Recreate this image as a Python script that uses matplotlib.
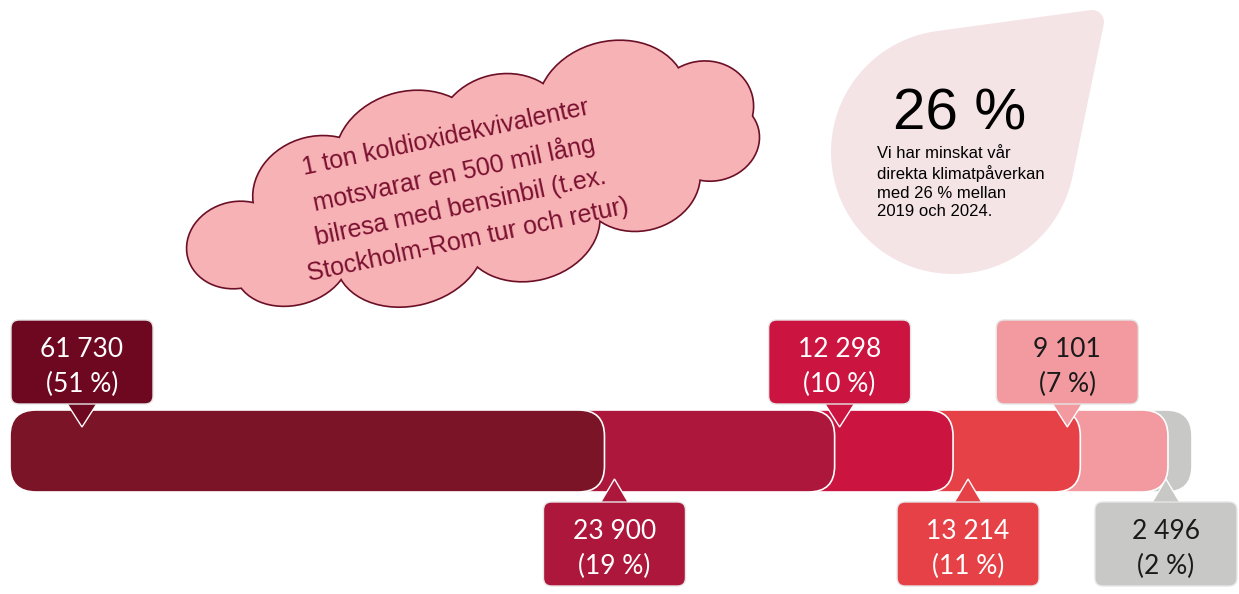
import numpy as np
import matplotlib.pyplot as plt
from matplotlib.patches import FancyBboxPatch, Polygon, Ellipse

W, H = 1239, 594

# data
values = [61730, 23900, 12298, 13214, 9101, 2496]
shares = [51, 19, 10, 11, 7, 2]
seg_colors = ['#7b1426', '#ad173b', '#cc1440', '#e54147', '#f29aa0', '#c8c8c6']
box_colors = ['#6d0820', '#ad173b', '#cc1440', '#e54147', '#f29aa0', '#c8c8c6']
text_colors = ['white', 'white', 'white', 'white', '#1a1a1a', '#1a1a1a']
above = [True, False, True, False, True, False]

cloud_text = ("1 ton koldioxidekvivalenter\nmotsvarar en 500 mil lång\n"
              "bilresa med bensinbil (t.ex.\nStockholm-Rom tur och retur)")
big_number = "26 %"
drop_text = "Vi har minskat vår\ndirekta klimatpåverkan\nmed 26 % mellan\n2019 och 2024."

# layout (pixels)
bar_left, bar_w = 10, 1182
bar_top, bar_h = 410, 82
radius = 26
tip_offset_px = [72, 10, 5, 15, -13, -2]

total = sum(values)
cum = np.concatenate([[0], np.cumsum(values)])
ux = total / bar_w  # data units per pixel

fig = plt.figure(figsize=(W / 100, H / 100), dpi=100)
ax_bar = fig.add_axes([bar_left / W, 0, bar_w / W, 1])
ax_bar.set_xlim(0, total)
ax_bar.set_ylim(H, 0)
ax_bar.axis('off')

ax = fig.add_axes([0, 0, 1, 1])
ax.set_xlim(0, W)
ax.set_ylim(H, 0)
ax.axis('off')

# stacked bar, earlier segments on top
for i, v in enumerate(values):
    start = cum[i] - (2 * radius * ux if i > 0 else 0)
    seg = FancyBboxPatch((start, bar_top), cum[i + 1] - start, bar_h,
                         boxstyle=f"round,pad=0,rounding_size={radius * ux}",
                         mutation_aspect=1 / ux, facecolor=seg_colors[i],
                         edgecolor='white', linewidth=1.2, zorder=10 - i)
    ax_bar.add_patch(seg)

# callouts
for i, v in enumerate(values):
    cx = cum[i] + tip_offset_px[i] * ux
    if above[i]:
        y0, tip, base = 320, 427, 402
    else:
        y0, tip, base = 502, 479, 506
    tri = Polygon([(cx - 16 * ux, base), (cx, tip), (cx + 16 * ux, base)], closed=True,
                  facecolor=box_colors[i], edgecolor='white', linewidth=1.0,
                  zorder=20, clip_on=False)
    ax_bar.add_patch(tri)
    box = FancyBboxPatch((cx - 71 * ux, y0), 142 * ux, 84,
                         boxstyle=f"round,pad=0,rounding_size={8 * ux}",
                         mutation_aspect=1 / ux, facecolor=box_colors[i],
                         edgecolor='#e6e6e6', linewidth=1.0, zorder=21, clip_on=False)
    ax_bar.add_patch(box)
    label = f"{v:,}".replace(",", " ") + f"\n({shares[i]} %)"
    ax_bar.text(cx, y0 + 47, label, ha='center', va='center', color=text_colors[i],
                fontsize=19, family='Lato', linespacing=1.45,
                zorder=22, clip_on=False)

# cloud: lobes as tilted ellipses (cx, cy, w, h)
lobes = [(237, 245, 100, 85), (292, 262, 115, 85), (318, 192, 130, 110),
         (410, 152, 150, 120), (502, 130, 130, 110), (612, 102, 150, 120),
         (703, 108, 100, 92), (713, 140, 92, 80), (640, 180, 120, 100),
         (530, 225, 140, 110), (410, 250, 150, 110), (470, 185, 420, 150)]
for lw, z, ec in [(2.4, 1, '#6b0f26'), (0, 2, 'none')]:
    for lx, ly, lw_, lh in lobes:
        ax.add_patch(Ellipse((lx, ly), lw_, lh, angle=-14, facecolor='#f7b2b5',
                             edgecolor=ec, linewidth=lw, zorder=z))
ax.text(457, 189, cloud_text, ha='center', va='center', rotation=12, rotation_mode='anchor',
        color='#7a1030', fontsize=18, family='Liberation Sans', linespacing=1.5, zorder=3)

# teardrop
C, R = np.array([953.0, 152.0]), 122.0
T, r = np.array([1092.0, 22.0]), 12.0
d = T - C
D = np.hypot(*d)
th = np.arctan2(d[1], d[0])
a = np.arccos((R - r) / D)
big = np.linspace(th + a, th - a + 2 * np.pi, 200)
small = np.linspace(th - a, th + a, 30)
pts = np.vstack([np.c_[C[0] + R * np.cos(big), C[1] + R * np.sin(big)],
                 np.c_[T[0] + r * np.cos(small), T[1] + r * np.sin(small)]])
ax.add_patch(Polygon(pts, closed=True, facecolor='#f5e4e6', edgecolor='none', zorder=1))
ax.text(960, 114, big_number, ha='center', va='center', fontsize=42,
        family='Liberation Sans', color='black', zorder=3)
ax.text(877, 146, drop_text, ha='left', va='top', fontsize=12, family='Liberation Sans',
        color='black', linespacing=1.3, zorder=3)

fig.savefig('out.png', dpi=100)
